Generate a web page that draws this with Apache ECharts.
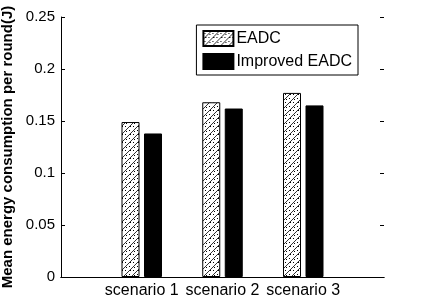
<!DOCTYPE html>
<html>
<head>
    <meta charset="utf-8" />
    <title>Mean energy consumption</title>
    <style>
        * { margin: 0; padding: 0 }
        html, body { width: 100%; height: 100%; background: #fff; }
        #chart { width: 424px; height: 304px; }
    </style>
</head>
<body>
    <div id="chart"></div>
    <script src="https://cdn.jsdelivr.net/npm/echarts@6/dist/echarts.min.js"></script>
    <script>
        // x axis runs 0..4, scenarios sit at 1, 2, 3
        const categories = ['', 'scenario 1', 'scenario 2', 'scenario 3', ''];
        const eadc = [null, 0.149, 0.168, 0.177, null];
        const improved = [null, 0.138, 0.162, 0.165, null];
        const yTicks = [0, 0.05, 0.1, 0.15, 0.2, 0.25];

        // hatch: diagonal lines with scattered dots
        const makeHatch = () => {
            const c = document.createElement('canvas');
            c.width = 8;
            c.height = 8;
            const ctx = c.getContext('2d');
            ctx.fillStyle = '#fff';
            ctx.fillRect(0, 0, 8, 8);
            ctx.strokeStyle = '#000';
            ctx.lineWidth = 0.8;
            ctx.beginPath();
            ctx.moveTo(0, 8);
            ctx.lineTo(8, 0);
            ctx.moveTo(-1, 1);
            ctx.lineTo(1, -1);
            ctx.moveTo(7, 9);
            ctx.lineTo(9, 7);
            ctx.stroke();
            ctx.fillStyle = '#000';
            [[1, 2], [5, 6], [2, 6], [6, 3]].forEach(p => ctx.fillRect(p[0], p[1], 1, 1));
            return c;
        };
        const hatch = { image: makeHatch(), repeat: 'repeat' };

        const chart = echarts.init(document.getElementById('chart'), null, { renderer: 'canvas' });
        const labelFont = { color: '#000', fontFamily: 'Liberation Sans, Arial, sans-serif' };
        chart.setOption({
            animation: false,
            grid: { left: 61, right: 40, top: 17, bottom: 27, containLabel: false, outerBoundsMode: 'none' },
            legend: {
                right: 66,
                top: 25,
                orient: 'vertical',
                icon: 'rect',
                itemWidth: 30,
                itemHeight: 15,
                itemGap: 6,
                padding: [5, 6, 5, 6],
                borderColor: '#000',
                borderWidth: 1,
                backgroundColor: '#fff',
                textStyle: Object.assign({ fontSize: 16, padding: [0, 0, 0, -2] }, labelFont),
                data: ['EADC', 'Improved EADC']
            },
            xAxis: [{
                type: 'category',
                data: categories,
                boundaryGap: false,
                axisLine: { lineStyle: { color: '#000', width: 1 } },
                axisTick: { show: false },
                axisLabel: Object.assign({ fontSize: 16, margin: 6, interval: 0 }, labelFont),
                splitLine: { show: false }
            }, {
                type: 'category',
                position: 'top',
                data: categories,
                boundaryGap: false,
                axisLine: { show: true, lineStyle: { color: '#000', width: 1 } },
                axisTick: { show: false },
                axisLabel: { show: false }
            }],
            yAxis: [{
                type: 'value',
                min: yTicks[0],
                max: yTicks[yTicks.length - 1],
                interval: 0.05,
                name: 'Mean energy consumption per round(J)',
                nameLocation: 'middle',
                nameGap: 44,
                nameTextStyle: Object.assign({ fontSize: 15, fontWeight: 'bold' }, labelFont),
                axisLine: { show: true, lineStyle: { color: '#000', width: 1 } },
                axisTick: { show: true, inside: true, length: 4, lineStyle: { color: '#000' } },
                axisLabel: Object.assign({ fontSize: 15, margin: 6 }, labelFont),
                splitLine: { show: false }
            }, {
                type: 'value',
                position: 'right',
                min: yTicks[0],
                max: yTicks[yTicks.length - 1],
                interval: 0.05,
                axisLine: { show: false },
                axisTick: { show: true, inside: true, length: 4, lineStyle: { color: '#000' } },
                axisLabel: { show: false },
                splitLine: { show: false }
            }],
            series: [{
                name: 'EADC',
                type: 'bar',
                data: eadc,
                barWidth: 18,
                barGap: '25%',
                itemStyle: { color: hatch, borderColor: '#000', borderWidth: 1 }
            }, {
                name: 'Improved EADC',
                type: 'bar',
                data: improved,
                barWidth: 18,
                itemStyle: { color: '#000', borderColor: '#000', borderWidth: 1 }
            }]
        });
    </script>
</body>
</html>
